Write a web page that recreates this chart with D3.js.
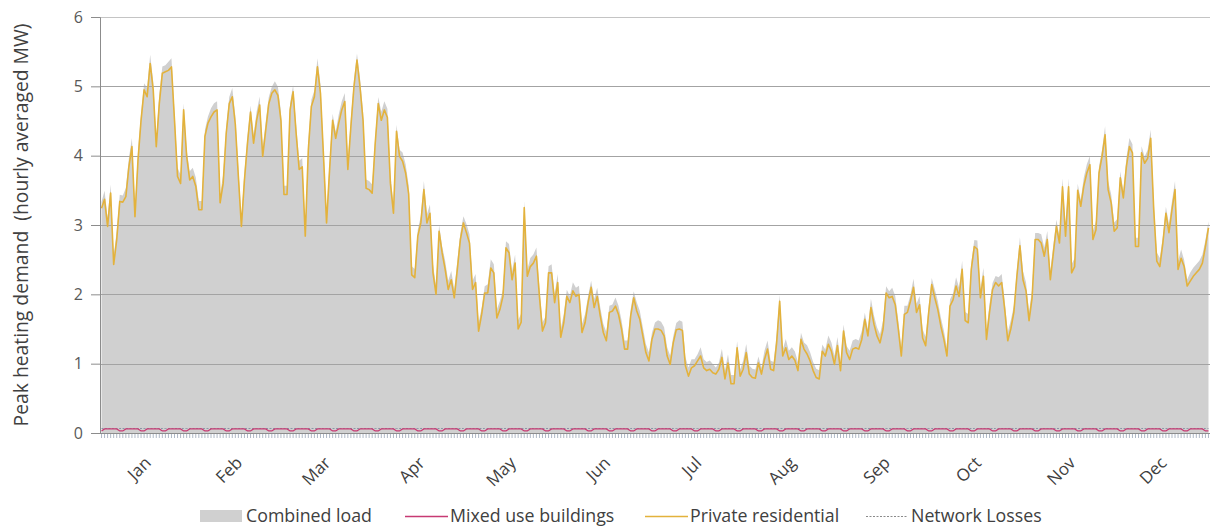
<!DOCTYPE html>
<html><head><meta charset="utf-8">
<script src="https://cdn.jsdelivr.net/npm/d3@7"></script>
<style>
body{margin:0;background:#fff}
svg{display:block}
text{font-family:"Open Sans","Noto Sans",sans-serif}
</style>
</head><body>
<svg id="chart" width="1210" height="532"></svg>
<script>
// ---------- DATA ----------
const months = ["Jan","Feb","Mar","Apr","May","Jun","Jul","Aug","Sep","Oct","Nov","Dec"];
const monthDays = [31,28,31,30,31,30,31,31,30,31,30,31];
const yTicks = [0,1,2,3,4,5,6];
const seriesNames = ["Combined load","Mixed use buildings","Private residential","Network Losses"];
const yTitle = "Peak heating demand  (hourly averaged MW)";

// Private residential, daily peak (MW)
const privateResidential = [
3.24,3.37,2.98,3.46,2.43,2.79,3.34,3.33,3.41,3.84,
4.13,3.12,3.94,4.51,4.95,4.85,5.33,4.95,4.13,4.75,
5.19,5.21,5.23,5.28,4.51,3.70,3.60,4.66,3.99,3.65,
3.70,3.56,3.22,3.22,4.28,4.47,4.56,4.63,4.66,3.32,
3.60,4.32,4.75,4.85,4.45,3.70,2.98,3.65,4.18,4.63,
4.18,4.51,4.73,3.99,4.37,4.75,4.90,4.95,4.87,4.51,
3.44,3.44,4.66,4.92,4.32,3.80,3.84,2.84,4.08,4.71,
4.85,5.28,4.90,3.99,3.03,3.80,4.51,4.25,4.47,4.66,
4.78,3.80,4.42,4.99,5.38,4.99,4.51,3.53,3.51,3.46,
4.18,4.75,4.51,4.66,4.55,3.60,3.17,4.35,3.99,3.92,
3.75,3.45,2.28,2.24,2.84,3.03,3.51,3.03,3.17,2.31,
2.00,2.91,2.60,2.36,2.07,2.21,1.95,2.36,2.79,3.03,
2.89,2.74,2.07,2.17,1.47,1.71,2.02,2.02,2.38,2.31,
1.66,1.78,1.97,2.67,2.60,2.21,2.45,1.50,1.60,3.25,
2.26,2.40,2.45,2.55,1.97,1.47,1.59,2.31,2.31,1.88,
2.17,1.38,1.59,1.97,1.88,2.05,1.97,2.00,1.45,1.59,
1.88,2.10,1.81,1.97,1.69,1.45,1.33,1.74,1.76,1.83,
1.71,1.50,1.21,1.21,1.69,1.95,1.76,1.64,1.40,1.16,
1.04,1.35,1.50,1.50,1.48,1.40,1.11,0.99,1.30,1.49,
1.50,1.48,0.97,0.82,0.94,0.97,1.04,1.11,0.94,0.90,
0.92,0.87,0.85,0.92,1.09,0.78,1.01,0.71,0.71,1.23,
0.82,0.92,1.16,0.85,0.80,0.79,1.01,0.85,1.06,1.21,
0.92,0.90,1.30,1.90,1.11,1.23,1.06,1.11,1.05,0.90,
1.35,1.21,1.14,1.04,0.90,0.80,0.78,1.18,1.11,1.28,
1.18,0.99,1.26,0.90,1.47,1.16,1.06,1.21,1.23,1.21,
1.35,1.64,1.40,1.81,1.57,1.40,1.30,1.50,2.02,1.95,
1.97,1.85,1.50,1.11,1.71,1.74,1.90,2.10,1.74,1.85,
1.37,1.26,1.74,2.14,1.95,1.78,1.54,1.35,1.11,1.83,
1.92,2.12,1.97,2.36,1.62,1.59,2.36,2.69,2.65,1.95,
2.26,1.35,1.74,2.07,2.17,2.12,2.17,1.78,1.33,1.50,
1.74,2.26,2.70,2.21,2.05,1.62,1.95,2.79,2.79,2.74,
2.55,2.79,2.21,2.60,2.98,2.74,3.55,2.84,3.55,2.31,
2.40,3.50,3.27,3.56,3.75,3.87,2.79,2.93,3.75,3.99,
4.30,3.51,3.32,2.91,2.96,3.68,3.39,3.84,4.13,4.04,
2.69,2.69,4.04,3.89,3.96,4.25,3.22,2.48,2.40,2.74,
3.17,2.89,3.22,3.51,2.36,2.52,2.40,2.12,2.19,2.26,
2.31,2.36,2.45,2.69,2.96
];

// Mixed use buildings, daily peak (MW)
const mixedUse = [
0.03,
0.06,0.06,0.06,0.06,0.06,0.03,0.03, 0.06,0.06,0.06,0.06,0.06,0.03,0.03,
0.06,0.06,0.06,0.06,0.06,0.03,0.03, 0.06,0.06,0.06,0.06,0.06,0.03,0.03,
0.06,0.06,0.06,0.06,0.06,0.03,0.03, 0.06,0.06,0.06,0.06,0.06,0.03,0.03,
0.06,0.06,0.06,0.06,0.06,0.03,0.03, 0.06,0.06,0.06,0.06,0.06,0.03,0.03,
0.06,0.06,0.06,0.06,0.06,0.03,0.03, 0.06,0.06,0.06,0.06,0.06,0.03,0.03,
0.06,0.06,0.06,0.06,0.06,0.03,0.03, 0.06,0.06,0.06,0.06,0.06,0.03,0.03,
0.06,0.06,0.06,0.06,0.06,0.03,0.03, 0.06,0.06,0.06,0.06,0.06,0.03,0.03,
0.06,0.06,0.06,0.06,0.06,0.03,0.03, 0.06,0.06,0.06,0.06,0.06,0.03,0.03,
0.06,0.06,0.06,0.06,0.06,0.03,0.03, 0.06,0.06,0.06,0.06,0.06,0.03,0.03,
0.06,0.06,0.06,0.06,0.06,0.03,0.03, 0.06,0.06,0.06,0.06,0.06,0.03,0.03,
0.06,0.06,0.06,0.06,0.06,0.03,0.03, 0.06,0.06,0.06,0.06,0.06,0.03,0.03,
0.06,0.06,0.06,0.06,0.06,0.03,0.03, 0.06,0.06,0.06,0.06,0.06,0.03,0.03,
0.06,0.06,0.06,0.06,0.06,0.03,0.03, 0.06,0.06,0.06,0.06,0.06,0.03,0.03,
0.06,0.06,0.06,0.06,0.06,0.03,0.03, 0.06,0.06,0.06,0.06,0.06,0.03,0.03,
0.06,0.06,0.06,0.06,0.06,0.03,0.03, 0.06,0.06,0.06,0.06,0.06,0.03,0.03,
0.06,0.06,0.06,0.06,0.06,0.03,0.03, 0.06,0.06,0.06,0.06,0.06,0.03,0.03,
0.06,0.06,0.06,0.06,0.06,0.03,0.03, 0.06,0.06,0.06,0.06,0.06,0.03,0.03,
0.06,0.06,0.06,0.06,0.06,0.03,0.03, 0.06,0.06,0.06,0.06,0.06,0.03,0.03,
0.06,0.06,0.06,0.06,0.06,0.03,0.03, 0.06,0.06,0.06,0.06,0.06,0.03,0.03,
0.06,0.06,0.06,0.06,0.06,0.03,0.03, 0.06,0.06,0.06,0.06,0.06,0.03,0.03,
0.06,0.06,0.06,0.06,0.06,0.03,0.03, 0.06,0.06,0.06,0.06,0.06,0.03,0.03,
0.06,0.06,0.06,0.06,0.06,0.03,0.03, 0.06,0.06,0.06,0.06,0.06,0.03,0.03,
0.06,0.06,0.06,0.06,0.06,0.03,0.03, 0.06,0.06,0.06,0.06,0.06,0.03,0.03,
0.06,0.06,0.06,0.06,0.06,0.03,0.03, 0.06,0.06,0.06,0.06,0.06,0.03,0.03,
0.06,0.06,0.06,0.06,0.06,0.03,0.03, 0.06,0.06,0.06,0.06,0.06,0.03,0.03,
0.06,0.06,0.06,0.06,0.06,0.03,0.03, 0.06,0.06,0.06,0.06,0.06,0.03,0.03
];

// Network losses, daily (MW)
const networkLosses = [
0.065,
0.065,0.065,0.065,0.065,0.065,0.065,0.065, 0.065,0.065,0.065,0.065,0.065,0.065,0.065,
0.065,0.065,0.065,0.065,0.065,0.065,0.065, 0.065,0.065,0.065,0.065,0.065,0.065,0.065,
0.065,0.065,0.065,0.065,0.065,0.065,0.065, 0.065,0.065,0.065,0.065,0.065,0.065,0.065,
0.065,0.065,0.065,0.065,0.065,0.065,0.065, 0.065,0.065,0.065,0.065,0.065,0.065,0.065,
0.065,0.065,0.065,0.065,0.065,0.065,0.065, 0.065,0.065,0.065,0.065,0.065,0.065,0.065,
0.065,0.065,0.065,0.065,0.065,0.065,0.065, 0.065,0.065,0.065,0.065,0.065,0.065,0.065,
0.065,0.065,0.065,0.065,0.065,0.065,0.065, 0.065,0.065,0.065,0.065,0.065,0.065,0.065,
0.065,0.065,0.065,0.065,0.065,0.065,0.065, 0.065,0.065,0.065,0.065,0.065,0.065,0.065,
0.065,0.065,0.065,0.065,0.065,0.065,0.065, 0.065,0.065,0.065,0.065,0.065,0.065,0.065,
0.065,0.065,0.065,0.065,0.065,0.065,0.065, 0.065,0.065,0.065,0.065,0.065,0.065,0.065,
0.065,0.065,0.065,0.065,0.065,0.065,0.065, 0.065,0.065,0.065,0.065,0.065,0.065,0.065,
0.065,0.065,0.065,0.065,0.065,0.065,0.065, 0.065,0.065,0.065,0.065,0.065,0.065,0.065,
0.065,0.065,0.065,0.065,0.065,0.065,0.065, 0.065,0.065,0.065,0.065,0.065,0.065,0.065,
0.065,0.065,0.065,0.065,0.065,0.065,0.065, 0.065,0.065,0.065,0.065,0.065,0.065,0.065,
0.065,0.065,0.065,0.065,0.065,0.065,0.065, 0.065,0.065,0.065,0.065,0.065,0.065,0.065,
0.065,0.065,0.065,0.065,0.065,0.065,0.065, 0.065,0.065,0.065,0.065,0.065,0.065,0.065,
0.065,0.065,0.065,0.065,0.065,0.065,0.065, 0.065,0.065,0.065,0.065,0.065,0.065,0.065,
0.065,0.065,0.065,0.065,0.065,0.065,0.065, 0.065,0.065,0.065,0.065,0.065,0.065,0.065,
0.065,0.065,0.065,0.065,0.065,0.065,0.065, 0.065,0.065,0.065,0.065,0.065,0.065,0.065,
0.065,0.065,0.065,0.065,0.065,0.065,0.065, 0.065,0.065,0.065,0.065,0.065,0.065,0.065,
0.065,0.065,0.065,0.065,0.065,0.065,0.065, 0.065,0.065,0.065,0.065,0.065,0.065,0.065,
0.065,0.065,0.065,0.065,0.065,0.065,0.065, 0.065,0.065,0.065,0.065,0.065,0.065,0.065,
0.065,0.065,0.065,0.065,0.065,0.065,0.065, 0.065,0.065,0.065,0.065,0.065,0.065,0.065,
0.065,0.065,0.065,0.065,0.065,0.065,0.065, 0.065,0.065,0.065,0.065,0.065,0.065,0.065,
0.065,0.065,0.065,0.065,0.065,0.065,0.065, 0.065,0.065,0.065,0.065,0.065,0.065,0.065,
0.065,0.065,0.065,0.065,0.065,0.065,0.065, 0.065,0.065,0.065,0.065,0.065,0.065,0.065
];

// ---------- LAYOUT ----------
const svg = d3.select("#chart");
const plot = {left:100, right:1210, top:17, bottom:433};
const nDays = privateResidential.length;
const dayIdx = d3.range(nDays);

const x = d3.scaleBand().domain(dayIdx).range([plot.left, plot.right]);
const cx = i => x(i) + x.bandwidth()/2;
const y = d3.scaleLinear().domain([0,6]).range([plot.bottom, plot.top]);

const rows = dayIdx.map(i => ({day:i, mixed:mixedUse[i], resid:privateResidential[i], losses:networkLosses[i]}));
const stacked = d3.stack().keys(["mixed","resid","losses"])(rows);
const topLayer = stacked[stacked.length-1];

// grid
svg.append("g").selectAll("line").data(yTicks.filter(t => t>0)).join("line")
  .attr("x1", plot.left).attr("x2", plot.right)
  .attr("y1", d => Math.round(y(d))+0.5).attr("y2", d => Math.round(y(d))+0.5)
  .attr("stroke", d => d===6 ? "#c4c4c4" : "#a3a3a3").attr("stroke-width",1);

// combined load area (stacked total)
svg.append("path").datum(topLayer)
  .attr("fill","#d0d0d0")
  .attr("d", d3.area().x(d => cx(d.data.day)).y0(y(0)).y1(d => y(d[1])));

// grid lines visible through the area
svg.append("g").selectAll("line").data(yTicks.filter(t => t>0 && t<6)).join("line")
  .attr("x1", plot.left).attr("x2", plot.right)
  .attr("y1", d => Math.round(y(d))+0.5).attr("y2", d => Math.round(y(d))+0.5)
  .attr("stroke","#a3a3a3").attr("stroke-width",1);

// network losses (dotted)
svg.append("path").datum(networkLosses)
  .attr("fill","none").attr("stroke","#8a94a6").attr("stroke-width",1)
  .attr("stroke-dasharray","2,1.5")
  .attr("d", d3.line().x((d,i) => cx(i)).y(d => y(d)));

// mixed use
svg.append("path").datum(mixedUse)
  .attr("fill","none").attr("stroke","#c73a73").attr("stroke-width",1.3)
  .attr("d", d3.line().x((d,i) => cx(i)).y(d => y(d)));

// private residential
svg.append("path").datum(privateResidential)
  .attr("fill","none").attr("stroke","#e3b23c").attr("stroke-width",1.6)
  .attr("stroke-linejoin","round")
  .attr("d", d3.line().x((d,i) => cx(i)).y(d => y(d)));

// y axis
const yAxis = svg.append("g").attr("transform",`translate(${plot.left},0)`)
  .call(d3.axisLeft(y).tickValues(yTicks).tickSize(9).tickPadding(8).tickFormat(d3.format("d")));
yAxis.select(".domain").attr("stroke","#8c8c8c");
yAxis.selectAll(".tick line").attr("stroke","#8c8c8c");
yAxis.selectAll(".tick text").attr("font-size",16).attr("fill","#595959")
  .attr("font-family",'"Open Sans","Noto Sans",sans-serif');

// x axis baseline + daily ticks
const xAxis = svg.append("g").attr("transform",`translate(0,${plot.bottom})`)
  .call(d3.axisBottom(x).tickSize(5).tickFormat(""));
xAxis.select(".domain").remove();
xAxis.selectAll(".tick line").attr("stroke","#9aa6b8").attr("stroke-width",0.8);
svg.append("line").attr("x1", plot.left-8).attr("x2", plot.right)
  .attr("y1", plot.bottom+0.5).attr("y2", plot.bottom+0.5).attr("stroke","#8c8c8c");

// month labels
const monthStart = [0, ...d3.cumsum(monthDays)].slice(0,12);
svg.append("g").selectAll("text").data(months).join("text")
  .attr("transform", (m,i) => {
    const mid = Math.floor(monthStart[i] + monthDays[i]/2);
    return `translate(${cx(mid)+5},${plot.bottom+31}) rotate(-45)`;
  })
  .attr("text-anchor","end").attr("font-size",17).attr("fill","#404040")
  .text(d => d);

// y title
const yt = svg.append("text")
  .attr("transform",`translate(28,${(plot.top+plot.bottom)/2}) rotate(-90)`)
  .attr("text-anchor","middle").attr("font-size",18).attr("fill","#404040")
  .attr("xml:space","preserve").style("white-space","pre")
  .text(yTitle);
{
  const w = yt.node().getComputedTextLength();
  yt.attr("font-size", 18*403/w);
}

// legend
const legendY = 516;
const legend = svg.append("g");
const legendItems = [
  {name:seriesNames[0], type:"area", sx:200, ex:242, tx:246},
  {name:seriesNames[1], type:"line", color:"#c73a73", sx:405, ex:448, tx:450},
  {name:seriesNames[2], type:"line", color:"#e3b23c", sx:645, ex:688, tx:690},
  {name:seriesNames[3], type:"dot", color:"#8a8a8a", sx:866, ex:908, tx:911}
];
const probe = legend.append("text").attr("font-size",16).text(seriesNames[0]);
const lfs = 16*126/probe.node().getComputedTextLength();
probe.remove();
legendItems.forEach(it => {
  if (it.type==="area") {
    legend.append("rect").attr("x",it.sx).attr("y",legendY-6).attr("width",it.ex-it.sx).attr("height",12).attr("fill","#d0d0d0");
  } else {
    legend.append("line").attr("x1",it.sx).attr("x2",it.ex).attr("y1",legendY+0.5).attr("y2",legendY+0.5)
      .attr("stroke",it.color).attr("stroke-width", it.type==="dot"?1:1.3)
      .attr("stroke-dasharray", it.type==="dot" ? "2,1.5" : null);
  }
  legend.append("text").attr("x",it.tx).attr("y",legendY).attr("dy","0.35em")
    .attr("font-size",lfs).attr("fill","#404040").text(it.name);
});
</script>
</body></html>
